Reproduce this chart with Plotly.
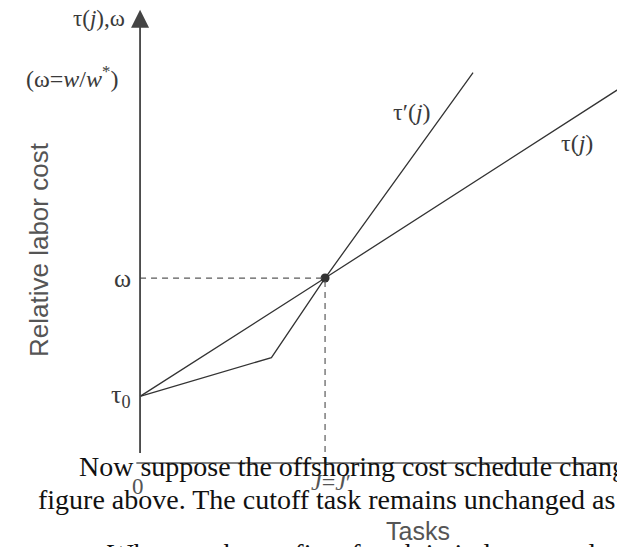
import plotly.graph_objects as go

# crossing point: cutoff task J = J' and relative wage omega
cutoff_j = 1.0
omega = 1.0
tau0 = 0.36

# tau(j): original offshoring cost schedule
tau_j = [0.0, 1.0, 2.6]
tau_val = [0.36, 1.0, 2.03]

# tau'(j): new schedule, kinked, through the same point
tau_prime_j = [0.0, 0.71, 1.0, 1.80]
tau_prime_val = [0.36, 0.57, 1.0, 2.11]

# page text that overlaps the bottom of the figure
body_lines = [
    "Now suppose the offshoring cost schedule changes",
    "figure above. The cutoff task remains unchanged as",
    "What are the profits of each in industry under the",
]

line_col = "#333333"
axis_col = "#5a5a5a"
label_col = "#3a3a3a"
serif = "Liberation Serif, Times New Roman, serif"
sans = "Liberation Sans, Arial, sans-serif"

fig = go.Figure()

fig.add_trace(go.Scatter(x=tau_j, y=tau_val, mode="lines",
                         line=dict(color=line_col, width=1.3), hoverinfo="skip"))
fig.add_trace(go.Scatter(x=tau_prime_j, y=tau_prime_val, mode="lines",
                         line=dict(color=line_col, width=1.3), hoverinfo="skip"))
fig.add_trace(go.Scatter(x=[cutoff_j], y=[omega], mode="markers",
                         marker=dict(color=line_col, size=9), hoverinfo="skip"))

# dashed guides to the axes
fig.add_shape(type="line", x0=0, y0=omega, x1=cutoff_j, y1=omega,
              line=dict(color=axis_col, width=1.2, dash="6px,5px"))
fig.add_shape(type="line", x0=cutoff_j, y0=0, x1=cutoff_j, y1=omega,
              line=dict(color=axis_col, width=1.2, dash="6px,5px"))

# axes
fig.add_shape(type="line", x0=-0.02, y0=0, x1=2.7, y1=0,
              line=dict(color=axis_col, width=1.6))
fig.add_annotation(x=0, y=2.45, ax=0, ay=0, xref="x", yref="y", axref="x", ayref="y",
                   showarrow=True, arrowhead=2, arrowsize=2, arrowwidth=1.8,
                   arrowcolor="#444444", text=" ")


def label(x, y, text, size=24, xanchor="center", color=label_col, family=serif):
    fig.add_annotation(x=x, y=y, xref="x", yref="y", text=text, showarrow=False,
                       xanchor=xanchor, yanchor="middle",
                       font=dict(family=family, size=size, color=color))


label(-0.07, 2.405, "τ(<i>j</i>),ω", size=23, xanchor="right")
label(-0.37, 2.086, "(ω=<i>w</i>/<i>w</i><sup>*</sup>)", size=24)
label(-0.04, omega, "ω", size=26, xanchor="right")
label(-0.04, tau0, "τ<sub>0</sub>", size=26, xanchor="right")
label(1.47, 1.9, "τ′(<i>j</i>)")
label(2.36, 1.73, "τ(<i>j</i>)")
label(-0.01, -0.125, "0", size=23, color="#555555")
label(1.03, -0.1, "<i>J</i>=<i>J</i>′", size=24, color="#555555")
label(1.5, -0.37, "Tasks", size=25, color="#555555", family=sans)

fig.add_annotation(x=22 / 617, y=1 - 250 / 547, xref="paper", yref="paper",
                   text="Relative labor cost", showarrow=False, textangle=-90,
                   font=dict(family=sans, size=26, color="#555555"))

body_pos = [(77, 466), (36, 499), (105, 553)]
for txt, (px, py) in zip(body_lines, body_pos):
    fig.add_annotation(x=px / 617, y=1 - py / 547, xref="paper", yref="paper",
                       text=txt, showarrow=False, xanchor="left", yanchor="middle",
                       font=dict(family=serif, size=28, color="#111111"))

fig.update_layout(
    width=617, height=547,
    margin=dict(l=0, r=0, t=0, b=0),
    paper_bgcolor="white", plot_bgcolor="white",
    showlegend=False,
    xaxis=dict(range=[-0.757, 2.578], visible=False),
    yaxis=dict(range=[-0.454, 2.503], visible=False),
)

fig.write_html("out.html", config={"displayModeBar": False},
               post_script="document.body.style.margin='0';")
